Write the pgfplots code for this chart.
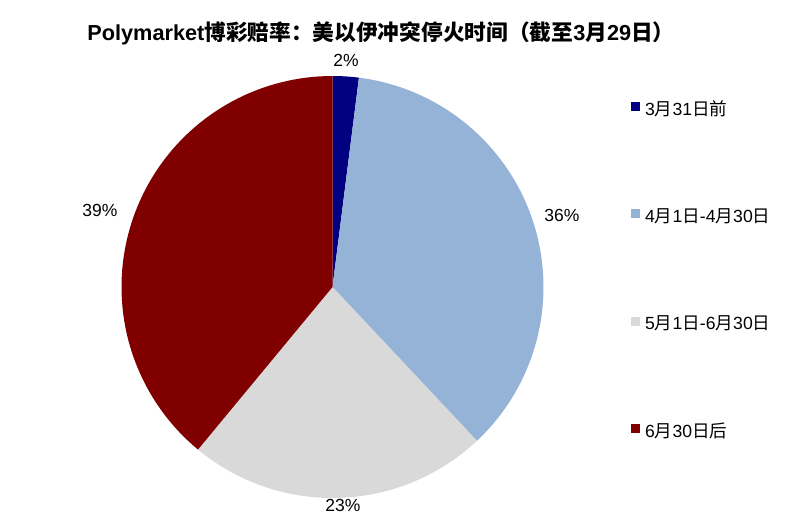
\documentclass[border=0pt]{standalone}
\usepackage{fontspec}
\setmainfont{Liberation Sans}
\newfontfamily\cjk{Noto Sans CJK SC}
\usepackage{pgfplots}
\pgfplotsset{compat=1.18}
\newcommand\zh[1]{{\cjk #1}}

\definecolor{cNavy}{HTML}{000080}
\definecolor{cBlue}{HTML}{95B3D7}
\definecolor{cGray}{HTML}{D9D9D9}
\definecolor{cRed}{HTML}{800000}

% Polymarket odds (%)
\def\pA{2}  % 3月31日前
\def\pB{36} % 4月1日-4月30日
\def\pC{23} % 5月1日-6月30日
\def\pD{39} % 6月30日后

\begin{document}
\begin{tikzpicture}
\pgfmathsetmacro\aA{90}
\pgfmathsetmacro\aB{\aA-3.6*\pA}
\pgfmathsetmacro\aC{\aB-3.6*\pB}
\pgfmathsetmacro\aD{\aC-3.6*\pC}
\pgfmathsetmacro\aE{\aD-3.6*\pD}
\begin{axis}[
    width=794bp, height=524bp, scale only axis,
    xmin=0, xmax=794, ymin=0, ymax=524,
    hide axis, clip=false,
    legend cell align=left,
    legend image code/.code={\fill[#1] (0bp,-0.5bp) rectangle (9bp,8.5bp);},
    legend style={draw=none, fill=none, inner sep=0pt,
        at={(axis cs:631,422)}, anchor=north west,
        row sep=91.3bp, column sep=5bp,
        font=\fontsize{17.6bp}{20bp}\selectfont,
        nodes={inner sep=0pt, text height=12bp, text depth=3bp}},
]
\path (rel axis cs:0,0) rectangle (rel axis cs:1,1);

\addplot[fill=cNavy, draw=none, domain=\aB:\aA, samples=8]
    ({332.5+211*cos(x)}, {237+211*sin(x)}) -- (axis cs:332.5,237) -- cycle;
\addlegendentry{3\zh{月}31\zh{日前}}
\addplot[fill=cBlue, draw=none, domain=\aC:\aB, samples=80]
    ({332.5+211*cos(x)}, {237+211*sin(x)}) -- (axis cs:332.5,237) -- cycle;
\addlegendentry{4\zh{月}1\zh{日}-4\zh{月}30\zh{日}}
\addplot[fill=cGray, draw=none, domain=\aD:\aC, samples=60]
    ({332.5+211*cos(x)}, {237+211*sin(x)}) -- (axis cs:332.5,237) -- cycle;
\addlegendentry{5\zh{月}1\zh{日}-6\zh{月}30\zh{日}}
\addplot[fill=cRed, draw=none, domain=\aE:\aD, samples=80]
    ({332.5+211*cos(x)}, {237+211*sin(x)}) -- (axis cs:332.5,237) -- cycle;
\addlegendentry{6\zh{月}30\zh{日后}}

\begin{scope}[font=\fontsize{17.5bp}{20bp}\selectfont]
\node at (axis cs:346,464) {\pA\%};
\node at (axis cs:562,309) {\pB\%};
\node at (axis cs:343,19) {\pC\%};
\node at (axis cs:100,314) {\pD\%};
\end{scope}

\node[font=\fontsize{21.7bp}{25bp}\selectfont\bfseries] at (axis cs:381,491)
    {Polymarket\zh{博彩赔率：美以伊冲突停火时间（截至}3\zh{月}29\zh{日）}};
\end{axis}
\end{tikzpicture}
\end{document}
